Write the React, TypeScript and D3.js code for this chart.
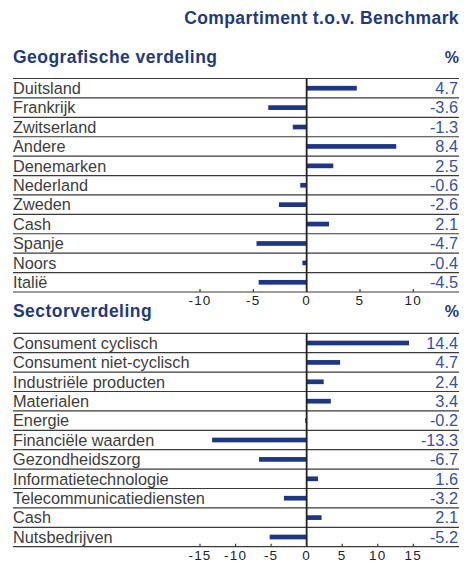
import React from 'react';
import * as d3 from 'd3';

const geoLabels = ['Duitsland', 'Frankrijk', 'Zwitserland', 'Andere', 'Denemarken', 'Nederland', 'Zweden', 'Cash', 'Spanje', 'Noors', 'Italië'];
const geoValues = [4.7, -3.6, -1.3, 8.4, 2.5, -0.6, -2.6, 2.1, -4.7, -0.4, -4.5];
const geoTicks = [-10, -5, 0, 5, 10];

const sectorLabels = ['Consument cyclisch', 'Consument niet-cyclisch', 'Industriële producten', 'Materialen', 'Energie', 'Financiële waarden', 'Gezondheidszorg', 'Informatietechnologie', 'Telecommunicatiediensten', 'Cash', 'Nutsbedrijven'];
const sectorValues = [14.4, 4.7, 2.4, 3.4, -0.2, -13.3, -6.7, 1.6, -3.2, 2.1, -5.2];
const sectorTicks = [-15, -10, -5, 0, 5, 10, 15];

const W = 468;
const H = 562;
const left = 13;
const right = 459;
const headBlue = '#1f3a7e';
const barBlue = '#1d3784';
const valueBlue = '#3651a3';
const font = 'Liberation Sans, Arial, sans-serif';

interface PanelProps {
  labels: string[];
  values: number[];
  ticks: number[];
  top: number;
  bottom: number;
}

const Panel: React.FC<PanelProps> = ({ labels, values, ticks, top, bottom }) => {
  const max = d3.max(ticks.map(Math.abs)) as number;
  const x = d3.scaleLinear().domain([-max, max]).range([200, 413.3]);
  const y = d3.scaleBand<string>().domain(labels).range([top, bottom]).paddingInner(0);
  const bh = 4.7;

  return (
    <g>
      {/* row separators */}
      {[...labels.map(l => y(l) as number), bottom].map((yy, i) => (
        <line key={'s' + i} x1={left} x2={right} y1={yy} y2={yy} stroke="#3a3a3a" strokeWidth={1.2} />
      ))}
      {labels.map((l, i) => {
        const v = values[i];
        const ry = y(l) as number;
        const cy = ry + y.bandwidth() / 2;
        return (
          <g key={l}>
            <text x={left} y={ry + 15.5} fontSize={16.3} fill="#3d3d3d" fontFamily={font}>{l}</text>
            <rect
              x={Math.min(x(0), x(v))}
              y={cy - bh / 2}
              width={Math.abs(x(v) - x(0))}
              height={bh}
              fill={barBlue}
            />
            <text x={right - 1} y={ry + 15.5} fontSize={16.3} fill={valueBlue} textAnchor="end" fontFamily={font}>
              {v.toFixed(1)}
            </text>
          </g>
        );
      })}
      {/* zero line */}
      <line x1={x(0)} x2={x(0)} y1={top} y2={bottom} stroke="#222" strokeWidth={1.8} />
      {/* ticks */}
      {ticks.map(t => (
        <g key={'t' + t}>
          <line x1={x(t)} x2={x(t)} y1={bottom} y2={bottom - 3} stroke="#3a3a3a" strokeWidth={1.2} />
          <text x={x(t)} y={bottom + 13} fontSize={13.5} fill="#222" textAnchor="middle" letterSpacing={1.2} fontFamily={font}>
            {t}
          </text>
        </g>
      ))}
    </g>
  );
};

export default function App() {
  return (
    <div style={{ position: 'absolute', left: 0, top: 0 }}>
      <svg width={W} height={H} style={{ display: 'block', background: '#fff' }}>
        <text x={right} y={24.3} fontSize={17.5} fontWeight="bold" fill={headBlue} textAnchor="end" letterSpacing={0.4} fontFamily={font}>
          Compartiment t.o.v. Benchmark
        </text>
        <text x={left} y={63.3} fontSize={17.5} fontWeight="bold" fill={headBlue} letterSpacing={0.45} fontFamily={font}>
          Geografische verdeling
        </text>
        <text x={right} y={63.3} fontSize={16} fontWeight="bold" fill={headBlue} textAnchor="end" fontFamily={font}>%</text>
        <Panel labels={geoLabels} values={geoValues} ticks={geoTicks} top={78.5} bottom={292} />
        <text x={left} y={316.5} fontSize={17.5} fontWeight="bold" fill={headBlue} letterSpacing={0.45} fontFamily={font}>
          Sectorverdeling
        </text>
        <text x={right} y={316.5} fontSize={16} fontWeight="bold" fill={headBlue} textAnchor="end" fontFamily={font}>%</text>
        <Panel labels={sectorLabels} values={sectorValues} ticks={sectorTicks} top={333.3} bottom={546.7} />
      </svg>
    </div>
  );
}
